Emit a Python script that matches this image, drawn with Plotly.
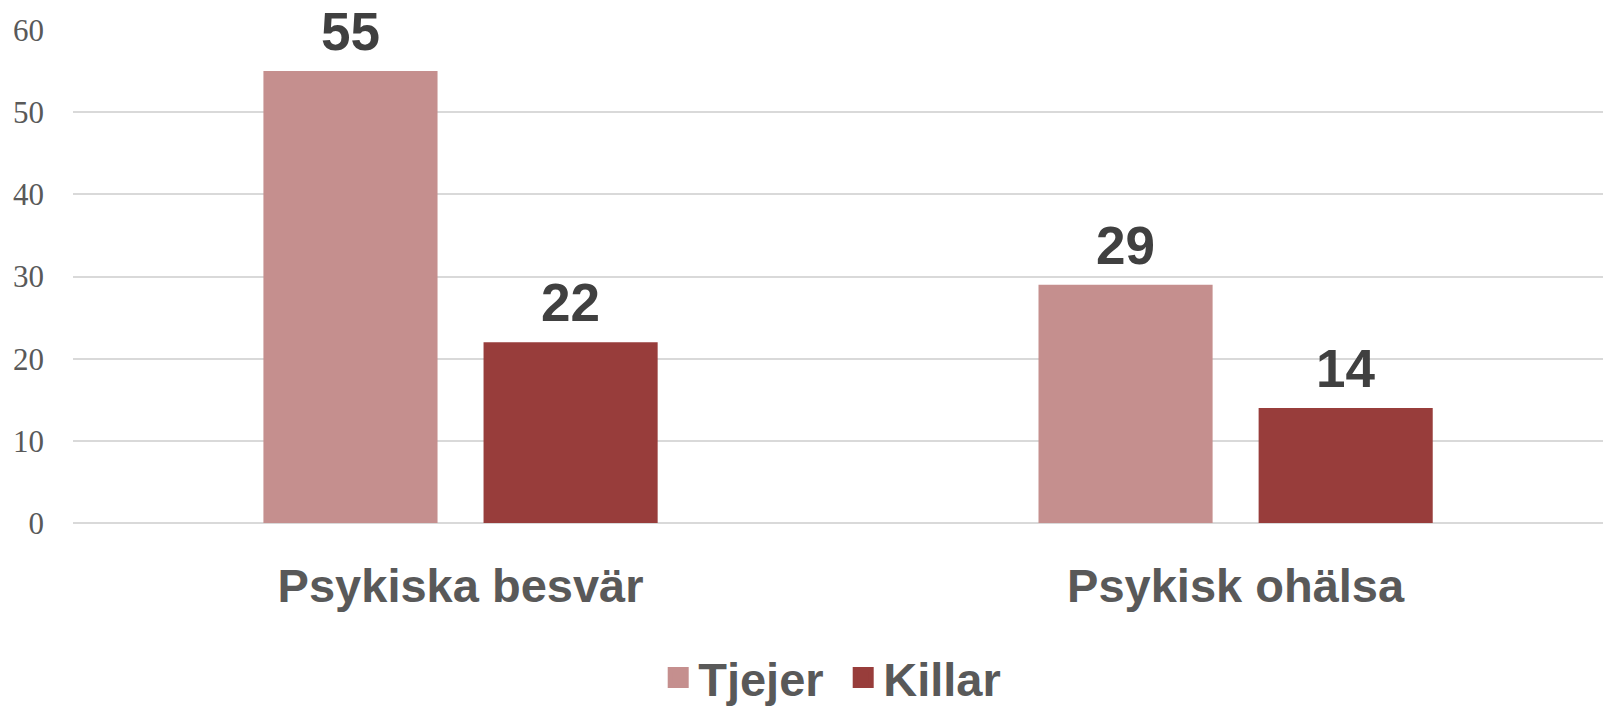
import plotly.graph_objects as go

categories = ["Psykiska besvär", "Psykisk ohälsa"]
series_names = ["Tjejer", "Killar"]
tjejer = [55, 29]
killar = [22, 14]
y_ticks = [0, 10, 20, 30, 40, 50, 60]

colors = ["#C58F8E", "#983D3B"]
values = [tjejer, killar]
shifts = [-110, 110]

fig = go.Figure()
for name, vals, col in zip(series_names, values, colors):
    fig.add_trace(go.Bar(x=categories, y=vals, name=name, marker_color=col,
                         marker_line_width=0, showlegend=False, hoverinfo="x+y+name"))
# legend entries (larger square symbols than bar icons allow)
for name, col in zip(series_names, colors):
    fig.add_trace(go.Scatter(x=[None], y=[None], mode="markers", name=name,
                             marker=dict(symbol="square", size=16, color=col,
                                         line=dict(color=col, width=5))))

annotations = []
for vals, sh in zip(values, shifts):
    for c, v in zip(categories, vals):
        annotations.append(dict(x=c, y=v, xref="x", yref="y", text=str(v),
                                showarrow=False, xshift=sh, yshift=8, yanchor="bottom",
                                font=dict(family="Liberation Sans, Arial", size=53,
                                          color="#404040", weight="bold")))

fig.update_layout(
    width=1603, height=707,
    margin=dict(l=73, r=0, t=30, b=184, autoexpand=False),
    paper_bgcolor="white", plot_bgcolor="white",
    barmode="group", bargap=0.432, bargroupgap=0.209,
    annotations=annotations,
    legend=dict(orientation="h", x=0.5034, xanchor="center",
                yref="container", y=0.041, yanchor="middle",
                entrywidth=140, entrywidthmode="pixels",
                font=dict(family="Liberation Sans, Arial", size=47, color="#595959",
                          weight="bold"),
                itemsizing="trace", bgcolor="rgba(0,0,0,0)"),
    xaxis=dict(range=[-0.5, 1.474], showgrid=False, zeroline=False, showline=False,
               automargin=False, ticks="", ticklabelstandoff=31,
               tickfont=dict(family="Liberation Sans, Arial", size=47, color="#595959",
                             weight="bold")),
    yaxis=dict(range=[0, 60], tickvals=y_ticks, showgrid=True, gridcolor="#D9D9D9",
               gridwidth=1.5, zeroline=True, zerolinecolor="#D9D9D9", zerolinewidth=1.5,
               showline=False, automargin=False, ticks="", ticklabelstandoff=28,
               tickfont=dict(family="Liberation Serif, Times New Roman", size=31,
                             color="#595959")),
)

fig.write_html("out.html", config={"displayModeBar": False},
               post_script="document.body.style.margin='0';")
